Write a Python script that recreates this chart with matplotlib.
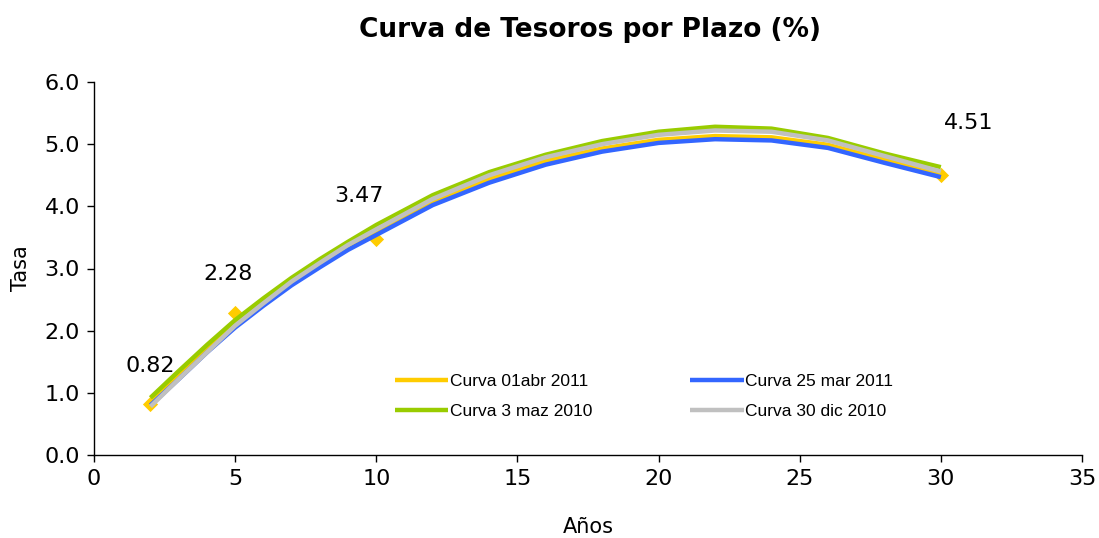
import matplotlib
matplotlib.use("Agg")
import matplotlib.pyplot as plt

plazos = [2, 3, 4, 5, 6, 7, 8, 9, 10, 12, 14, 16, 18, 20, 22, 24, 26, 28, 30]
curva_01abr2011 = [0.85, 1.28, 1.70, 2.10, 2.45, 2.78, 3.07, 3.35, 3.59, 4.07, 4.44, 4.73, 4.93, 5.07, 5.13, 5.11, 4.99, 4.75, 4.51]
curva_25mar2011 = [0.80, 1.22, 1.65, 2.05, 2.40, 2.73, 3.02, 3.30, 3.54, 4.02, 4.38, 4.67, 4.88, 5.02, 5.08, 5.06, 4.94, 4.70, 4.47]
curva_3maz2010 = [0.92, 1.35, 1.77, 2.17, 2.52, 2.85, 3.15, 3.43, 3.70, 4.18, 4.55, 4.83, 5.05, 5.20, 5.28, 5.25, 5.10, 4.85, 4.63]
curva_30dic2010 = [0.78, 1.22, 1.65, 2.08, 2.44, 2.79, 3.09, 3.38, 3.63, 4.12, 4.50, 4.79, 5.00, 5.15, 5.22, 5.20, 5.06, 4.81, 4.56]

puntos_x = [2, 5, 10, 30]
puntos_y = [0.82, 2.28, 3.47, 4.51]
etiquetas = ["0.82", "2.28", "3.47", "4.51"]

series = [
    ("Curva 01abr 2011", curva_01abr2011, "#FFCC00"),
    ("Curva 25 mar 2011", curva_25mar2011, "#3366FF"),
    ("Curva 3 maz 2010", curva_3maz2010, "#99CC00"),
    ("Curva 30 dic 2010", curva_30dic2010, "#C0C0C0"),
]

fig = plt.figure(figsize=(10.99, 5.38), dpi=100)
ax = fig.add_axes([94 / 1099, 1 - 455 / 538, (1082 - 94) / 1099, (455 - 82) / 538])

ax.scatter(puntos_x, puntos_y, marker="D", s=60, color="#FFCC00", zorder=1, linewidths=0)

handles = []
for name, vals, col in series:
    h, = ax.plot(plazos, vals, color=col, lw=3.2, label=name, zorder=2, solid_capstyle="butt")
    handles.append(h)

offsets = [(0, 38), (-7, 39), (-17, 43), (28, 52)]
for x, y, t, (dx, dy) in zip(puntos_x, puntos_y, etiquetas, offsets):
    ax.annotate(t, (x, y), xytext=(dx * 0.72, dy * 0.72), textcoords="offset points",
                ha="center", va="center", fontsize=16, color="black")

ax.set_xlim(0, 35)
ax.set_ylim(0, 6)
ax.set_xticks(range(0, 36, 5))
ax.set_yticks([0, 1, 2, 3, 4, 5, 6])
ax.set_yticklabels([f"{v:.1f}" for v in range(7)])
ax.tick_params(direction="out", length=5, width=1, labelsize=16, pad=5)
for s in ["top", "right"]:
    ax.spines[s].set_visible(False)
for s in ["left", "bottom"]:
    ax.spines[s].set_linewidth(1)

ax.set_xlabel("Años", fontsize=15, labelpad=20)
ax.set_ylabel("Tasa", fontsize=15, labelpad=10)
fig.suptitle("Curva de Tesoros por Plazo (%)", x=590 / 1099, y=1 - 30 / 538, va="center",
             fontsize=19, fontweight="bold")

# row-wise ordering: yellow, blue / green, gray
orden = [handles[0], handles[2], handles[1], handles[3]]
leg = ax.legend(handles=orden, ncol=2, frameon=False, loc="upper left",
                bbox_to_anchor=(285 / 988, 1 - (358 - 82) / 373),
                prop={"family": "Liberation Sans", "size": 12.5},
                handlelength=3.1, handletextpad=0.1, columnspacing=5.6,
                labelspacing=0.85)

fig.savefig("out.png", dpi=100)
